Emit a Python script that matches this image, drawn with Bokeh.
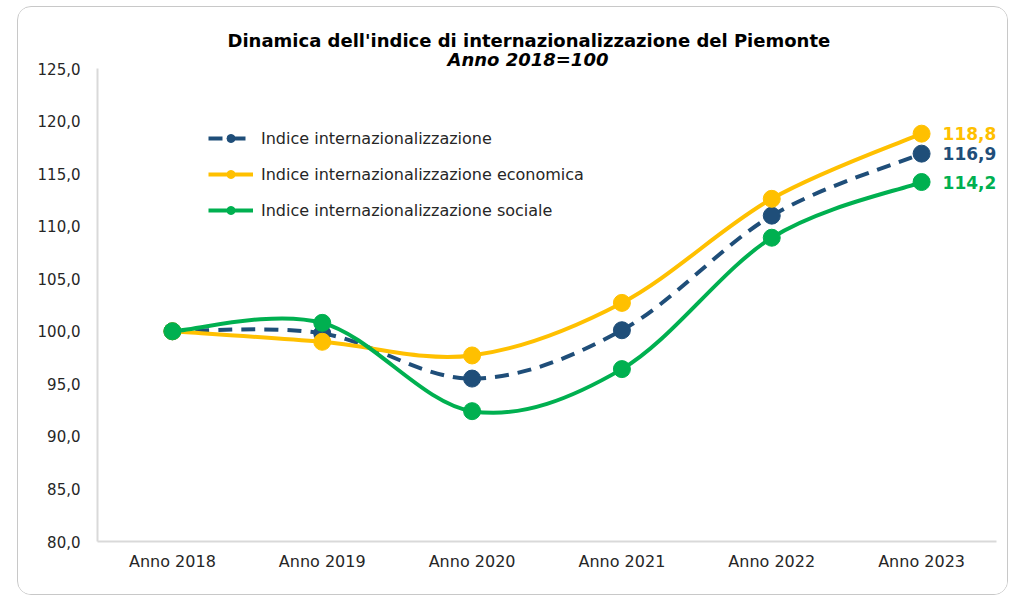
import numpy as np
from bokeh.plotting import figure
from bokeh.models import Range1d, FixedTicker, Title, Legend, LegendItem, ColumnDataSource
from bokeh.core.properties import value
from bokeh.embed import file_html
from bokeh.resources import INLINE

categories = ["Anno 2018", "Anno 2019", "Anno 2020", "Anno 2021", "Anno 2022", "Anno 2023"]
indice = [100.0, 99.8, 95.5, 100.1, 111.0, 116.9]
economica = [100.0, 99.0, 97.7, 102.7, 112.6, 118.8]
sociale = [100.0, 100.8, 92.4, 96.4, 108.9, 114.2]
y_ticks = [80, 85, 90, 95, 100, 105, 110, 115, 120, 125]
series_names = ["Indice internazionalizzazione",
                "Indice internazionalizzazione economica",
                "Indice internazionalizzazione sociale"]
colors = ["#1F4E79", "#FFC000", "#00B050"]

FONT = "DejaVu Sans"


def smooth_source(ys):
    """Cubic Bezier segments (Catmull-Rom style, like Excel smoothed lines)."""
    ys = np.asarray(ys, float)
    xs = np.arange(len(ys), dtype=float)
    n = len(ys)
    xp = np.concatenate([[xs[0]], xs, [xs[-1]]])
    yp = np.concatenate([[ys[0]], ys, [ys[-1]]])
    k = 1.0 / 6.0
    return ColumnDataSource(dict(
        x0=xs[:-1], y0=ys[:-1], x1=xs[1:], y1=ys[1:],
        cx0=xs[:-1] + (xp[2:n + 1] - xp[0:n - 1]) * k,
        cy0=ys[:-1] + (yp[2:n + 1] - yp[0:n - 1]) * k,
        cx1=xs[1:] - (xp[3:n + 2] - xp[1:n]) * k,
        cy1=ys[1:] - (yp[3:n + 2] - yp[1:n]) * k,
    ))


p = figure(width=991, height=589, x_range=Range1d(-0.5, 5.5), y_range=Range1d(80, 125),
           output_backend="svg", toolbar_location=None, title=None,
           min_border_left=79, min_border_right=13, min_border_top=61, min_border_bottom=55,
           outline_line_color=None, margin=(6, 0, 0, 17))
p.styles = {"border": "1px solid #c8c8c8", "border-radius": "14px", "overflow": "hidden"}
p.xgrid.visible = False
p.ygrid.visible = False

for ax in (p.xaxis, p.yaxis):
    ax.axis_line_color = "#d9d9d9"
    ax.axis_line_width = 2
    ax.major_tick_line_color = None
    ax.minor_tick_line_color = None
    ax.major_label_text_font = FONT
    ax.major_label_text_color = "#262626"

p.xaxis.major_label_text_font_size = "16px"
p.yaxis.major_label_text_font_size = "15px"
p.xaxis.ticker = FixedTicker(ticks=list(range(len(categories))))
p.xaxis.major_label_overrides = {i: c for i, c in enumerate(categories)}
p.xaxis.major_label_standoff = 4
p.yaxis.ticker = FixedTicker(ticks=y_ticks)
p.yaxis.major_label_overrides = {t: f"{t:.1f}".replace(".", ",") for t in y_ticks}
p.yaxis.major_label_standoff = 11

items = []
xs = list(range(len(categories)))
for name, ys, col, dash in zip(series_names, [indice, economica, sociale], colors,
                               ["dashed", "solid", "solid"]):
    src = smooth_source(ys)
    dash_pat = "14 9" if dash == "dashed" else "solid"
    b = p.bezier(x0="x0", y0="y0", x1="x1", y1="y1", cx0="cx0", cy0="cy0", cx1="cx1", cy1="cy1",
                 source=src, line_color=col, line_width=4, line_dash=dash_pat)
    s = p.scatter(xs, ys, size=17, fill_color=col, line_color=col)
    items.append(LegendItem(label=name, renderers=[b, s]))

# end labels
last_vals = [indice[-1], economica[-1], sociale[-1]]
p.text(x=[xs[-1]] * 3, y=last_vals, text=[f"{v:.1f}".replace(".", ",") for v in last_vals],
       text_color=colors, text_font=value(FONT), text_font_size="17px",
       text_font_style="bold", text_align="left", text_baseline="middle", x_offset=21)

legend = Legend(items=items, location=(111, 321), border_line_color=None,
                background_fill_alpha=0, padding=0, margin=0, spacing=16,
                glyph_width=45, glyph_height=20, label_height=20, label_standoff=8,
                label_text_font=FONT, label_text_font_size="16px", label_text_color="#262626")
p.add_layout(legend)

p.add_layout(Title(text="Anno 2018=100", align="left", offset=350, text_font=FONT,
                   text_font_size="18px", text_font_style="bold italic",
                   text_color="#000000", standoff=-2), "above")
p.add_layout(Title(text="Dinamica dell'indice di internazionalizzazione del Piemonte", align="left",
                   offset=130, text_font=FONT, text_font_size="18px", text_font_style="bold",
                   text_color="#000000", standoff=-6), "above")

open("out.html", "w").write(file_html(p, INLINE))
